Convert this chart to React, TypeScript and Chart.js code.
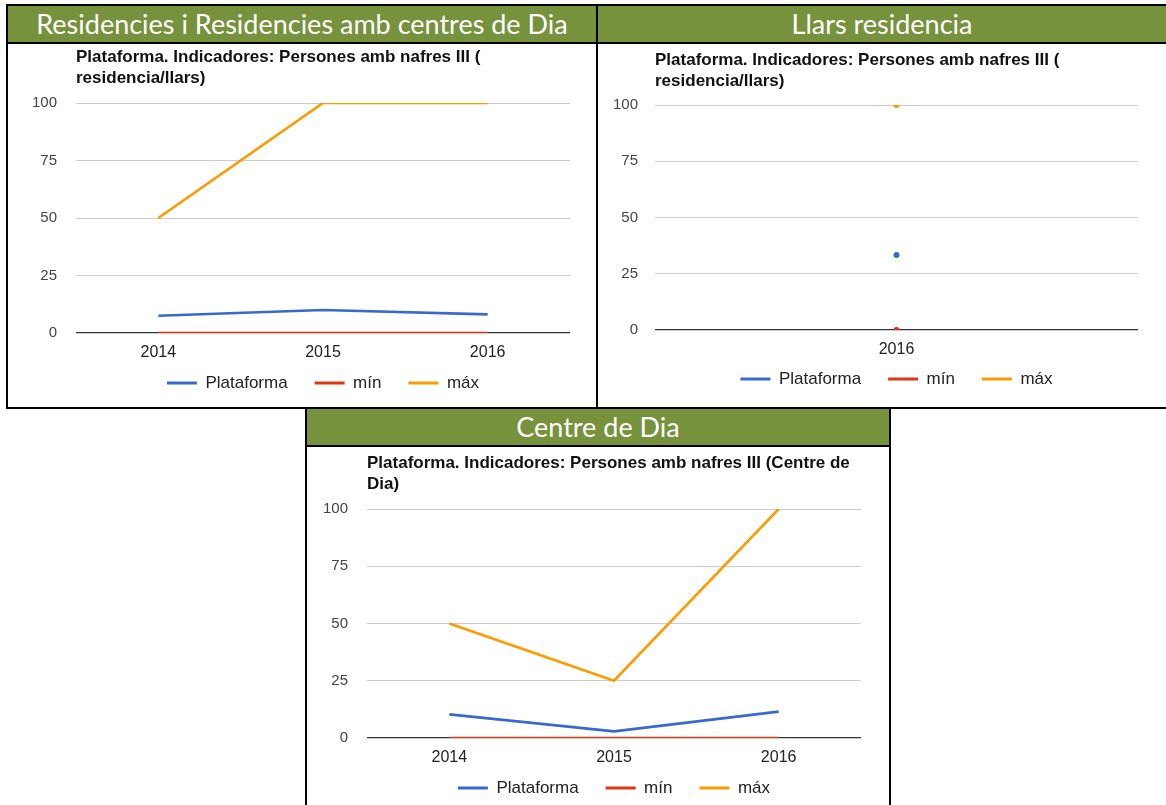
import React, { useEffect, useRef } from 'react';
import { Chart, registerables } from 'chart.js';

Chart.register(...registerables);

// ---------- data ----------
const years = ['2014', '2015', '2016'];
const resPlataforma = [7.5, 10, 8.1];
const resMin = [0, 0, 0];
const resMax = [50, 100, 100];

const llarsYears = ['2016'];
const llarsPlataforma = [33.3];
const llarsMin = [0];
const llarsMax = [100];

const cdPlataforma = [10.3, 2.9, 11.5];
const cdMin = [0, 0, 0];
const cdMax = [50, 25, 100];

const yTicks = [0, 25, 50, 75, 100];
const seriesNames = ['Plataforma', 'mín', 'máx'];
const seriesColors = ['#3868d0', '#dc3912', '#ff9900'];

const resTitle = ['Plataforma. Indicadores: Persones amb nafres III (', 'residencia/llars)'];
const cdTitle = ['Plataforma. Indicadores: Persones amb nafres III (Centre de', 'Dia)'];

const headers = ['Residencies i Residencies amb centres de Dia', 'Llars residencia', 'Centre de Dia'];

const FONT = '"Liberation Sans", Arial, sans-serif';
const GREEN = '#76923c';
const LEGEND_FONT = 17;
const LEGEND_PAD = 27;

type Layout = {
  yWidth: number;
  padRight: number;
  legendMax: number;
  legendCenter: number;
  yPad: number;
  titlePadTop: number;
  titlePadBottom: number;
  titleOffset: number;
  xHeight: number;
  xPad: number;
  points: boolean;
};

const alignPlugin = {
  id: 'alignBoxes',
  afterLayout(chart: any, _args: any, opts: any) {
    const ca = chart.chartArea;
    if (chart.titleBlock) {
      chart.titleBlock.left = ca.left + (opts.titleOffset || 0);
      chart.titleBlock.right = ca.right + 200;
    }
    if (chart.legend) {
      chart.legend.left = ca.left;
      chart.legend.right = ca.right;
      chart.legend.top = opts.legendCenter - LEGEND_PAD - LEGEND_FONT / 2;
    }
  },
};

function LineChart(props: {
  labels: string[];
  series: number[][];
  title: string[];
  width: number;
  height: number;
  layout: Layout;
}) {
  const ref = useRef<HTMLCanvasElement>(null);
  useEffect(() => {
    const L = props.layout;
    const chart = new Chart(ref.current as HTMLCanvasElement, {
      type: 'line',
      data: {
        labels: props.labels,
        datasets: props.series.map((d, i) => ({
          label: seriesNames[i],
          data: d,
          borderColor: seriesColors[i],
          backgroundColor: seriesColors[i],
          borderWidth: 2.6,
          pointRadius: L.points ? 3 : 0,
          pointBorderWidth: 0,
          pointHoverRadius: 0,
          tension: 0,
          fill: false,
        })),
      },
      options: {
        animation: false,
        responsive: false,
        events: [],
        layout: { padding: { left: 0, right: L.padRight, top: 0, bottom: 0 } },
        scales: {
          x: {
            offset: true,
            grid: { display: false, drawTicks: false },
            border: { display: false },
            ticks: { font: { family: FONT, size: 16 }, color: '#222', padding: L.xPad, maxRotation: 0 },
            afterFit: (s: any) => {
              s.height = L.xHeight;
            },
          },
          y: {
            min: 0,
            max: 100,
            afterBuildTicks: (s: any) => {
              s.ticks = yTicks.map((v) => ({ value: v }));
            },
            grid: {
              drawTicks: false,
              color: (c: any) => (c.tick && c.tick.value === 0 ? '#333333' : '#cccccc'),
              lineWidth: (c: any) => (c.tick && c.tick.value === 0 ? 1.3 : 1),
            },
            border: { display: false },
            ticks: { font: { family: FONT, size: 15 }, color: '#444', padding: L.yPad },
            afterFit: (s: any) => {
              s.width = L.yWidth;
            },
          },
        },
        plugins: {
          alignBoxes: { titleOffset: L.titleOffset, legendCenter: L.legendCenter },
          tooltip: { enabled: false },
          title: {
            display: true,
            text: props.title,
            align: 'start',
            color: '#111',
            font: { family: FONT, size: 17, weight: 'bold', lineHeight: 1.25 },
            padding: { top: L.titlePadTop, bottom: L.titlePadBottom },
          },
          legend: {
            position: 'bottom',
            maxHeight: L.legendMax,
            labels: {
              boxWidth: 30,
              boxHeight: 3,
              padding: LEGEND_PAD,
              color: '#222',
              font: { family: FONT, size: LEGEND_FONT },
              generateLabels: (c: any) =>
                (Chart.defaults.plugins.legend.labels.generateLabels as any)(c).map((l: any) => ({
                  ...l,
                  fillStyle: l.strokeStyle,
                  lineWidth: 0,
                })),
            },
          },
        } as any,
      },
      plugins: [alignPlugin as any],
    });
    return () => chart.destroy();
  }, []);
  return <canvas ref={ref} width={props.width} height={props.height} style={{ display: 'block' }} />;
}

const box = (left: number, top: number, width: number, height: number, bg: string): React.CSSProperties => ({
  position: 'absolute',
  left,
  top,
  width,
  height,
  background: bg,
});

function Header(props: { left: number; top: number; width: number; text: string }) {
  return (
    <div
      style={{
        ...box(props.left, props.top, props.width, 36, GREEN),
        color: '#fff',
        fontFamily: 'Lato, "Open Sans", sans-serif',
        fontSize: 27,
        lineHeight: '36px',
        textAlign: 'center',
        whiteSpace: 'nowrap',
        overflow: 'hidden',
      }}
    >
      {props.text}
    </div>
  );
}

export default function App() {
  return (
    <div style={{ position: 'absolute', left: 0, top: 0, width: 1166, height: 805, overflow: 'hidden', background: '#fff' }}>
      <Header left={8} top={6} width={588} text={headers[0]} />
      <Header left={598} top={6} width={568} text={headers[1]} />
      <Header left={307} top={409} width={582} text={headers[2]} />

      <div style={{ position: 'absolute', left: 8, top: 44 }}>
        <LineChart
          labels={years}
          series={[resPlataforma, resMin, resMax]}
          title={resTitle}
          width={588}
          height={363}
          layout={{ yWidth: 68, padRight: 26, legendMax: 38, legendCenter: 339, yPad: 19, titlePadTop: 2.4, titlePadBottom: 14.1, titleOffset: 0, xHeight: 36, xPad: 10, points: false }}
        />
      </div>
      <div style={{ position: 'absolute', left: 598, top: 44 }}>
        <LineChart
          labels={llarsYears}
          series={[llarsPlataforma, llarsMin, llarsMax]}
          title={resTitle}
          width={568}
          height={363}
          layout={{ yWidth: 57, padRight: 28, legendMax: 41, legendCenter: 335, yPad: 17, titlePadTop: 5.4, titlePadBottom: 13.1, titleOffset: 0, xHeight: 36, xPad: 10, points: true }}
        />
      </div>
      <div style={{ position: 'absolute', left: 307, top: 447 }}>
        <LineChart
          labels={years}
          series={[cdPlataforma, cdMin, cdMax]}
          title={cdTitle}
          width={582}
          height={358}
          layout={{ yWidth: 60, padRight: 28, legendMax: 31, legendCenter: 341, yPad: 19, titlePadTop: 5.4, titlePadBottom: 14.1, titleOffset: 0, xHeight: 36, xPad: 10.4, points: false }}
        />
      </div>

      {/* borders */}
      <div style={box(6, 4, 1160, 2, '#000')} />
      <div style={box(6, 4, 2, 405, '#000')} />
      <div style={box(596, 4, 2, 405, '#000')} />
      <div style={box(8, 42, 1158, 2, '#000')} />
      <div style={box(6, 407, 1160, 2, '#000')} />
      <div style={box(305, 407, 2, 398, '#000')} />
      <div style={box(889, 407, 2, 398, '#000')} />
      <div style={box(307, 445, 582, 2, '#000')} />
    </div>
  );
}
